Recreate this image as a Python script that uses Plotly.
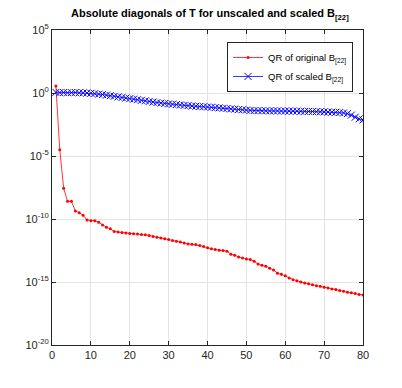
import plotly.graph_objects as go

# Column index (1..80)
idx = list(range(1, 81))

# log10 of |diag(T)| for QR of original B[22]
orig_exp = [0.55, -4.5, -7.56, -8.6, -8.6, -9.37, -9.5, -9.7, -10.08, -10.13,
            -10.13, -10.26, -10.47, -10.65, -10.78, -10.99, -11.04, -11.07, -11.12, -11.15,
            -11.17, -11.2, -11.23, -11.25, -11.3, -11.38, -11.44, -11.51, -11.56, -11.62,
            -11.7, -11.77, -11.83, -11.9, -11.98, -12.01, -12.03, -12.11, -12.19, -12.29,
            -12.37, -12.42, -12.48, -12.5, -12.55, -12.79, -12.87, -13.02, -13.1, -13.18,
            -13.21, -13.36, -13.57, -13.67, -13.75, -13.91, -14.04, -14.3, -14.38, -14.51,
            -14.69, -14.82, -14.9, -15.0, -15.08, -15.13, -15.21, -15.29, -15.34, -15.42,
            -15.47, -15.55, -15.6, -15.68, -15.73, -15.81, -15.86, -15.91, -15.99, -16.04]

# log10 of |diag(T)| for QR of scaled B[22]
scaled_exp = [0.05, 0.03, 0.04, 0.02, 0.03, 0.04, 0.02, 0.01, 0.0, -0.02,
              -0.05, -0.09, -0.12, -0.17, -0.21, -0.26, -0.31, -0.36, -0.40, -0.45,
              -0.49, -0.53, -0.58, -0.62, -0.67, -0.72, -0.76, -0.80, -0.83, -0.86,
              -0.89, -0.92, -0.95, -0.98, -1.00, -1.03, -1.05, -1.07, -1.09, -1.11,
              -1.13, -1.16, -1.18, -1.21, -1.23, -1.26, -1.28, -1.31, -1.33, -1.36,
              -1.38, -1.40, -1.40, -1.41, -1.41, -1.42, -1.42, -1.42, -1.43, -1.43,
              -1.43, -1.44, -1.44, -1.45, -1.46, -1.46, -1.47, -1.48, -1.49, -1.50,
              -1.51, -1.52, -1.53, -1.55, -1.58, -1.64, -1.75, -1.92, -2.05, -2.14]

orig_vals = [10 ** e for e in orig_exp]
scaled_vals = [10 ** e for e in scaled_exp]

x_ticks = [0, 10, 20, 30, 40, 50, 60, 70, 80]
y_tick_exps = [-20, -15, -10, -5, 0, 5]
y_tickvals = [10.0 ** e for e in y_tick_exps]
y_ticktext = ["10<sup>%d</sup>" % e for e in y_tick_exps]

FONT = "Liberation Sans Narrow, Liberation Sans, Arial, sans-serif"

fig = go.Figure()
fig.add_trace(go.Scatter(
    x=idx, y=orig_vals, mode="lines+markers",
    name="QR of original B<sub>[22]</sub>",
    line=dict(color="#ff0000", width=0.8),
    marker=dict(symbol="circle", size=3, color="#ff0000"),
))
fig.add_trace(go.Scatter(
    x=idx, y=scaled_vals, mode="lines+markers",
    name="QR of scaled B<sub>[22]</sub>",
    line=dict(color="#0000ff", width=0.8),
    marker=dict(symbol="x-thin-open", size=7, color="#0000ff",
                line=dict(color="#0000ff", width=1)),
))

axis_common = dict(
    showline=True, linecolor="#262626", linewidth=1, mirror="ticks",
    ticks="inside", ticklen=4, tickcolor="#262626",
    showgrid=True, gridcolor="#e3e3e3", gridwidth=1,
    zeroline=False, automargin=False,
    tickfont=dict(family=FONT, size=11, color="#262626"),
)

fig.update_layout(
    width=402, height=388,
    margin=dict(l=52, r=39, t=30, b=43),
    paper_bgcolor="white", plot_bgcolor="white",
    title=dict(
        text="<b>Absolute diagonals of T for unscaled and scaled B<sub>[22]</sub></b>",
        x=0.522, xanchor="center", y=0.975, yanchor="top",
        font=dict(family=FONT, size=11, color="#000000"),
    ),
    xaxis=dict(range=[0, 80], tickvals=x_ticks, **axis_common),
    yaxis=dict(type="log", range=[-20, 5], tickvals=y_tickvals,
               ticktext=y_ticktext, **axis_common),
    legend=dict(
        x=0.968, y=0.962, xanchor="right", yanchor="top",
        bgcolor="white", bordercolor="#262626", borderwidth=1,
        font=dict(family=FONT, size=9.5, color="#000000"),
        tracegroupgap=0, itemwidth=30,
    ),
    showlegend=True,
)

fig.write_html("out.html", config={"displayModeBar": False},
               post_script="document.body.style.margin='0';")
